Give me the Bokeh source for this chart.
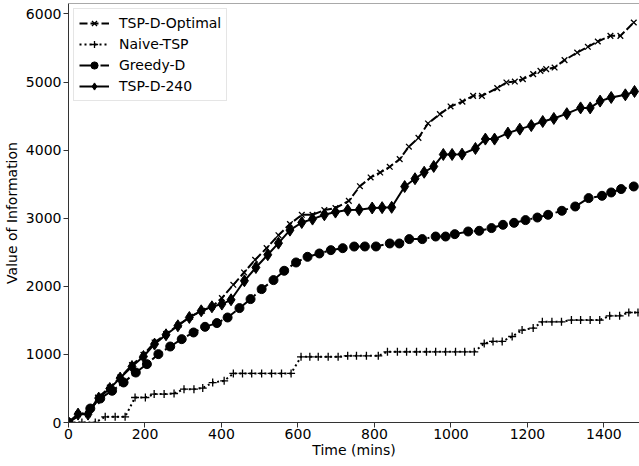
from bokeh.plotting import figure
from bokeh.models import Legend, LegendItem, Span, Range1d, FixedTicker
from bokeh.embed import file_html
from bokeh.resources import INLINE

# ---- data ----
opt_t = [0, 25, 51, 77, 108, 135, 166, 196, 225, 255, 288, 318, 349, 375, 401, 431, 459, 488, 518, 549,
         579, 610, 638, 669, 698, 733, 762, 790, 815, 840, 866, 890, 915, 940, 971, 999, 1030, 1058,
         1081, 1121, 1145, 1167, 1188, 1215, 1234, 1249, 1271, 1297, 1330, 1358, 1384, 1417, 1443, 1478]
opt_v = [0, 120, 120, 367, 514, 661, 843, 994, 1175, 1298, 1435, 1552, 1640, 1700, 1827, 2022, 2203, 2389,
         2561, 2750, 2915, 3050, 3050, 3119, 3150, 3255, 3470, 3598, 3671, 3755, 3868, 4050, 4180, 4391,
         4529, 4641, 4712, 4797, 4797, 4910, 4993, 5007, 5043, 5116, 5164, 5189, 5213, 5321, 5433, 5517,
         5595, 5678, 5678, 5874]

naive_t = [0, 35, 70, 96, 122, 148, 174, 201, 224, 250, 276, 302, 328, 351, 377, 407, 431, 455, 479, 505,
           531, 557, 582, 608, 631, 653, 679, 705, 730, 753, 779, 810, 834, 860, 884, 910, 936, 960, 986,
           1012, 1036, 1061, 1087, 1110, 1134, 1160, 1186, 1215, 1239, 1264, 1289, 1315, 1339, 1364, 1389,
           1415, 1441, 1465, 1489]
naive_v = [0, 0, 0, 84, 84, 84, 367, 367, 417, 417, 426, 490, 490, 505, 587, 612, 720, 720, 720, 720,
           720, 720, 720, 965, 965, 965, 965, 965, 979, 979, 979, 979, 1038, 1038, 1038, 1038, 1038, 1038,
           1038, 1038, 1038, 1038, 1160, 1190, 1190, 1263, 1357, 1386, 1479, 1479, 1479, 1504, 1504, 1504,
           1504, 1567, 1567, 1615, 1615]

greedy_t = [0, 57, 83, 114, 144, 176, 205, 235, 266, 296, 327, 357, 388, 416, 447, 476, 505, 536, 564, 595,
            625, 656, 686, 717, 747, 775, 804, 840, 865, 891, 925, 960, 986, 1010, 1045, 1074, 1106, 1136,
            1165, 1195, 1226, 1254, 1290, 1325, 1360, 1395, 1419, 1445, 1478]
greedy_v = [0, 205, 352, 466, 588, 734, 857, 1004, 1116, 1224, 1322, 1405, 1460, 1542, 1680, 1812, 1959,
            2091, 2228, 2350, 2433, 2482, 2531, 2560, 2584, 2585, 2585, 2629, 2629, 2693, 2693, 2731, 2731,
            2766, 2805, 2815, 2855, 2903, 2932, 2972, 3010, 3050, 3109, 3172, 3295, 3329, 3378, 3428, 3466]

d240_t = [0, 25, 51, 79, 108, 135, 166, 196, 225, 255, 286, 316, 347, 375, 401, 425, 460, 490, 521, 549,
          579, 610, 638, 669, 698, 730, 760, 794, 820, 845, 879, 906, 930, 955, 980, 1003, 1029, 1064, 1090,
          1114, 1149, 1180, 1210, 1240, 1269, 1303, 1339, 1364, 1390, 1419, 1456, 1480]
d240_v = [0, 123, 123, 358, 499, 652, 822, 969, 1151, 1288, 1420, 1542, 1640, 1699, 1739, 1802, 2081, 2276,
          2463, 2634, 2825, 2937, 2987, 3050, 3090, 3119, 3125, 3150, 3155, 3160, 3465, 3580, 3675, 3760,
          3936, 3936, 3941, 4024, 4162, 4162, 4250, 4308, 4360, 4420, 4465, 4535, 4620, 4620, 4720, 4773,
          4812, 4861]

x_ticks = [0, 200, 400, 600, 800, 1000, 1200, 1400]
y_ticks = [0, 1000, 2000, 3000, 4000, 5000, 6000]
series_labels = ["TSP-D-Optimal", "Naive-TSP", "Greedy-D", "TSP-D-240"]

FONT = "DejaVu Sans"
FS = "14px"
Y_END = 6153
X_END = 1493

p = figure(width=639, height=466, output_backend="svg", toolbar_location=None,
           x_range=Range1d(0, X_END), y_range=Range1d(0, Y_END),
           min_border_left=67, min_border_right=0, min_border_top=3, min_border_bottom=44)
p.background_fill_color = "white"
p.border_fill_color = "white"
p.grid.visible = False
p.outline_line_color = None

AX = "#333333"
for ax in (p.xaxis[0], p.yaxis[0]):
    ax.axis_line_color = AX
    ax.axis_line_width = 1
    ax.major_tick_line_color = AX
    ax.major_tick_out = 5
    ax.major_tick_in = 0
    ax.minor_tick_line_color = None
    ax.major_label_text_font = FONT
    ax.major_label_text_font_size = FS
    ax.major_label_text_color = "black"
    ax.axis_label_text_font = FONT
    ax.axis_label_text_font_size = FS
    ax.axis_label_text_font_style = "normal"
    ax.axis_label_text_color = "black"

p.xaxis[0].ticker = FixedTicker(ticks=x_ticks)
p.yaxis[0].ticker = FixedTicker(ticks=y_ticks)
p.xaxis[0].axis_label = "Time (mins)"
p.yaxis[0].axis_label = "Value of Information"
p.xaxis[0].major_label_standoff = 1
p.yaxis[0].major_label_standoff = 2
p.xaxis[0].axis_label_standoff = 0
p.yaxis[0].axis_label_standoff = 3

top = Span(location=Y_END, dimension="width", line_color="#555555", line_width=1)
p.add_layout(top)

LW = 2
l1 = p.line(opt_t, opt_v, line_color="black", line_width=LW, line_dash="8 3")
m1 = p.scatter(opt_t, opt_v, marker="x", size=8, line_color="black", line_width=1.3)
l2 = p.line(naive_t, naive_v, line_color="black", line_width=LW, line_dash="2 3")
m2 = p.scatter(naive_t, naive_v, marker="cross", size=8, line_color="black", line_width=1.3)
l3 = p.line(greedy_t, greedy_v, line_color="black", line_width=LW, line_dash="13 3 2 3")
m3 = p.scatter(greedy_t, greedy_v, marker="circle", size=9, fill_color="black", line_color="black")
l4 = p.line(d240_t, d240_v, line_color="black", line_width=LW)
m4 = p.scatter(d240_t, d240_v, marker="diamond", size=12, fill_color="black", line_color="black")

legend = Legend(items=[
    LegendItem(label=series_labels[0], renderers=[l1, m1]),
    LegendItem(label=series_labels[1], renderers=[l2, m2]),
    LegendItem(label=series_labels[2], renderers=[l3, m3]),
    LegendItem(label=series_labels[3], renderers=[l4, m4]),
], location="top_left")
legend.margin = 5
legend.padding = 5
legend.spacing = 3
legend.glyph_width = 30
legend.glyph_height = 18
legend.label_height = 18
legend.label_standoff = 10
legend.label_text_font = FONT
legend.label_text_font_size = FS
legend.label_text_color = "black"
legend.border_line_color = "#cccccc"
legend.border_line_width = 1
legend.background_fill_color = "white"
legend.background_fill_alpha = 0.8
p.add_layout(legend)

open("out.html", "w").write(file_html(p, INLINE))
